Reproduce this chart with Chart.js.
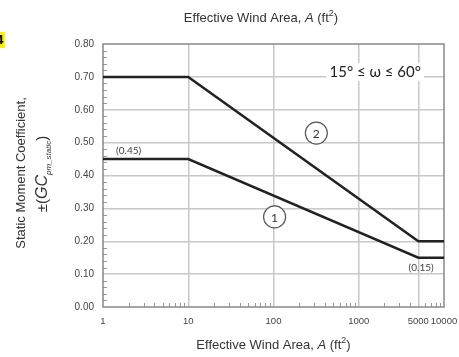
<!DOCTYPE html>
<html>
<head>
<meta charset="utf-8">
<script src="https://cdn.jsdelivr.net/npm/chart.js@4"></script>
<style>
  body { margin: 0; background: #fff; }
  #wrap { position: relative; width: 459px; height: 357px; overflow: hidden; }
  #tag { position: absolute; left: -6px; top: 32px; background: #ffef00; font: bold 13px "Liberation Sans", Arial, sans-serif; padding: 0 2px; line-height: 16px; }
</style>
</head>
<body>
<div id="wrap">
  <canvas id="chart" width="459" height="357"></canvas>
  <div id="tag">4</div>
</div>
<script>
// values
const areas = [1, 10, 5000, 10000];
const zone1 = [0.45, 0.45, 0.15, 0.15];
const zone2 = [0.70, 0.70, 0.20, 0.20];
const xTicks = [1, 10, 100, 1000, 5000, 10000];
const yMin = 0, yMax = 0.8, yStep = 0.1;

// labels on the plot, in data coordinates
const notes = [
  { text: '(0.45)', x: 2.0, y: 0.474 },
  { text: '(0.15)', x: 5390, y: 0.119 },
];
const circles = [
  { text: '1', x: 103, y: 0.274 },
  { text: '2', x: 318, y: 0.529 },
];
const rangeLabel = { text: '15° ≤ ω ≤ 60°', x: 1560, y: 0.715 };

const SANS = '"Liberation Sans", Arial, sans-serif';
const CAL = 'Lato, "Open Sans", sans-serif';

function axisTitle(ctx, cx, cy) {
  // "Effective Wind Area, A (ft²)" with italic A and superscript 2
  const parts = [
    { t: 'Effective Wind Area, ', f: '13px ' + SANS, dy: 0 },
    { t: 'A', f: 'italic 13px ' + SANS, dy: 0 },
    { t: ' (ft', f: '13px ' + SANS, dy: 0 },
    { t: '2', f: '9px ' + SANS, dy: -4 },
    { t: ')', f: '13px ' + SANS, dy: 0 },
  ];
  let w = 0;
  for (const p of parts) { ctx.font = p.f; p.w = ctx.measureText(p.t).width; w += p.w; }
  let x = cx - w / 2;
  ctx.textAlign = 'left'; ctx.textBaseline = 'middle'; ctx.fillStyle = '#333';
  for (const p of parts) { ctx.font = p.f; ctx.fillText(p.t, x, cy + p.dy); x += p.w; }
}

const decor = {
  id: 'decor',
  beforeDatasetsDraw(chart) {
    const { ctx, chartArea: a, scales: { x, y } } = chart;
    ctx.save();
    // minor ticks on x (2..9 per decade)
    ctx.strokeStyle = '#999'; ctx.lineWidth = 1;
    ctx.beginPath();
    for (let d = 1; d < 10000; d *= 10) {
      for (let k = 2; k <= 9; k++) {
        const v = d * k;
        if (xTicks.includes(v)) continue;
        const px = Math.round(x.getPixelForValue(v)) + 0.5;
        ctx.moveTo(px, a.bottom); ctx.lineTo(px, a.bottom - 4);
      }
    }
    // minor ticks on y (every 0.02)
    for (let i = 1; i < 40; i++) {
      if (i % 5 === 0) continue;
      const py = Math.round(y.getPixelForValue(i * 0.02)) + 0.5;
      ctx.moveTo(a.left, py); ctx.lineTo(a.left + 4, py);
    }
    ctx.stroke();
    // frame
    ctx.strokeStyle = '#888'; ctx.lineWidth = 1.5;
    ctx.strokeRect(a.left, a.top, a.right - a.left, a.bottom - a.top);
    ctx.restore();
  },
  afterDatasetsDraw(chart) {
    const { ctx, chartArea: a, scales: { x, y } } = chart;
    ctx.save();
    // range label with white background
    ctx.font = '15px ' + CAL;
    const rx = x.getPixelForValue(rangeLabel.x), ry = y.getPixelForValue(rangeLabel.y);
    const rw = ctx.measureText(rangeLabel.text).width;
    ctx.fillStyle = '#fff';
    ctx.fillRect(rx - rw / 2 - 3, ry - 9, rw + 6, 18);
    ctx.fillStyle = '#222'; ctx.textAlign = 'center'; ctx.textBaseline = 'middle';
    ctx.fillText(rangeLabel.text, rx, ry);
    // value notes
    ctx.font = '10px ' + CAL; ctx.fillStyle = '#444';
    for (const n of notes) ctx.fillText(n.text, x.getPixelForValue(n.x), y.getPixelForValue(n.y));
    // circled zone numbers
    for (const c of circles) {
      const cx = x.getPixelForValue(c.x), cy = y.getPixelForValue(c.y);
      ctx.beginPath(); ctx.arc(cx, cy, 11, 0, Math.PI * 2);
      ctx.fillStyle = '#fff'; ctx.fill();
      ctx.strokeStyle = '#555'; ctx.lineWidth = 1.2; ctx.stroke();
      ctx.fillStyle = '#333'; ctx.font = '12px ' + CAL;
      ctx.fillText(c.text, cx, cy + 1);
    }
    // axis titles (top and bottom)
    axisTitle(ctx, 261, 18);
    axisTitle(ctx, (a.left + a.right) / 2, 345);
    // y title, rotated
    ctx.translate(21, 173); ctx.rotate(-Math.PI / 2);
    ctx.font = '13px ' + SANS; ctx.fillStyle = '#333'; ctx.textAlign = 'center'; ctx.textBaseline = 'middle';
    ctx.fillText('Static Moment Coefficient,', 0, 0);
    ctx.setTransform(1, 0, 0, 1, 0, 0);
    ctx.translate(43, 174); ctx.rotate(-Math.PI / 2);
    const parts = [
      { t: '±(', f: '15px ' + SANS, dy: 0 },
      { t: 'GC', f: 'italic 16px ' + SANS, dy: 0 },
      { t: 'pm_static', f: 'italic 8px ' + SANS, dy: 6 },
      { t: ')', f: '15px ' + SANS, dy: 0 },
    ];
    let w = 0;
    for (const p of parts) { ctx.font = p.f; p.w = ctx.measureText(p.t).width; w += p.w; }
    let px = -w / 2; ctx.textAlign = 'left';
    for (const p of parts) { ctx.font = p.f; ctx.fillText(p.t, px, p.dy); px += p.w; }
    ctx.restore();
  }
};

new Chart(document.getElementById('chart'), {
  type: 'line',
  data: {
    labels: areas,
    datasets: [
      { label: 'Zone 1', data: areas.map((a, i) => ({ x: a, y: zone1[i] })) },
      { label: 'Zone 2', data: areas.map((a, i) => ({ x: a, y: zone2[i] })) },
    ]
  },
  options: {
    responsive: false,
    animation: false,
    layout: { padding: { left: 0, top: 44, right: 15, bottom: 0 } },
    elements: {
      line: { borderColor: '#222', borderWidth: 2.5, tension: 0 },
      point: { radius: 0 }
    },
    plugins: { legend: { display: false }, tooltip: { enabled: false } },
    scales: {
      x: {
        type: 'logarithmic', min: 1, max: 10000,
        afterBuildTicks: s => { s.ticks = xTicks.map(v => ({ value: v })); },
        afterFit: s => { s.height = 50; s.paddingLeft = 0; s.paddingRight = 0; },
        ticks: { autoSkip: false, maxRotation: 0, padding: 9, color: '#444', font: { family: SANS, size: 9.5 }, callback: v => String(v) },
        grid: { drawTicks: false, lineWidth: 1.5, color: c => (c.tick && (c.tick.value === 1 || c.tick.value === 10000)) ? 'rgba(0,0,0,0)' : '#c8c8c8' },
        border: { display: false }
      },
      y: {
        min: yMin, max: yMax,
        afterFit: s => { s.width = 103; s.paddingTop = 0; s.paddingBottom = 0; },
        ticks: { stepSize: yStep, padding: 9, color: '#444', font: { family: SANS, size: 10 }, callback: v => v.toFixed(2) },
        grid: { drawTicks: false, lineWidth: 1.5, color: c => (c.tick && (Math.abs(c.tick.value) < 1e-9 || Math.abs(c.tick.value - 0.8) < 1e-9)) ? 'rgba(0,0,0,0)' : '#c8c8c8' },
        border: { display: false }
      }
    }
  },
  plugins: [decor]
});
</script>
</body>
</html>
